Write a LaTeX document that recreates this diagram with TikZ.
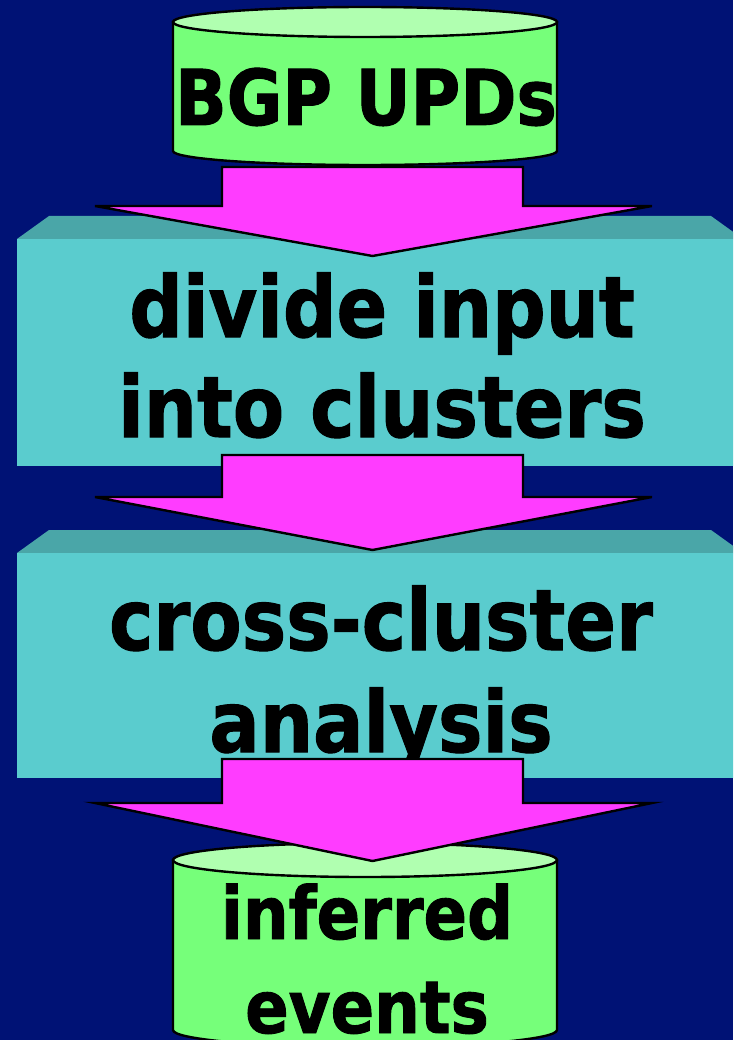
\documentclass[tikz,border=0pt]{standalone}
\usepackage{fontspec}
\newfontfamily\lblfont{DejaVu Sans}[FakeStretch=0.88,FakeBold=1.2]
\usetikzlibrary{calc}
\definecolor{slidebg}{RGB}{0,18,117}
\definecolor{cylgreen}{RGB}{118,255,122}
\definecolor{cyltop}{RGB}{176,255,176}
\definecolor{boxcyan}{RGB}{90,204,206}
\definecolor{boxbevel}{RGB}{74,166,168}
\definecolor{flowpink}{RGB}{255,60,255}
\begin{document}
\begin{tikzpicture}[x=1pt,y=-1pt,line join=miter,
  every node/.style={font=\lblfont\bfseries,text=black,inner sep=0pt,align=center},
  cylside/.style={fill=cylgreen,draw=black,line width=2.4pt},
  cyllid/.style={fill=cyltop,draw=black,line width=2.4pt},
  blockarrow/.style={fill=flowpink,draw=black,line width=2.4pt}]
\useasboundingbox (0,0) rectangle (733,1040);
\clip (0,0) rectangle (733,1040);
\fill[slidebg] (0,0) rectangle (733,1040);
% input store
\draw[cylside] (173,22) -- (173,151) arc[start angle=180,end angle=0,x radius=192,y radius=14] -- (557,22) -- cycle;
\draw[cyllid] (365,22) ellipse[x radius=192,y radius=15];
\node[anchor=base,font=\lblfont\bfseries\fontsize{77}{77}\selectfont] (upd) at (366,125) {BGP UPDs};
% first step
\fill[boxbevel] (17,239) -- (49,216) -- (711,216) -- (743,239) -- cycle;
\fill[boxcyan] (17,239) rectangle (743,466);
\node[anchor=base,font=\lblfont\bfseries\fontsize{85}{100}\selectfont] (divide) at (382,437) {divide input\\into clusters};
% second step
\fill[boxbevel] (17,553) -- (49,530) -- (711,530) -- (743,553) -- cycle;
\fill[boxcyan] (17,553) rectangle (743,778);
\node[anchor=base,font=\lblfont\bfseries\fontsize{85}{102}\selectfont] (cross) at (381,752) {cross-cluster\\analysis};
% arrows between stages
\draw[blockarrow] (222,167) -- (222,206) -- (95,206) -- (372.5,256) -- (652,206) -- (523,206) -- (523,167) -- cycle;
\draw[blockarrow] (222,455) -- (222,497) -- (95,497) -- (372.5,550) -- (652,497) -- (523,497) -- (523,455) -- cycle;
% output store
\draw[cylside] (173,860) -- (173,1030) arc[start angle=180,end angle=0,x radius=192,y radius=17] -- (557,860) -- cycle;
\draw[cyllid] (365,860) ellipse[x radius=192,y radius=17];
\draw[blockarrow] (222,759) -- (222,803) -- (95,803) -- (372.5,861) -- (652,803) -- (523,803) -- (523,759) -- cycle;
\node[anchor=base,text depth=0pt,font=\lblfont\bfseries\fontsize{73}{94}\selectfont] (events) at (367,1033) {inferred\\events};
\end{tikzpicture}
\end{document}
